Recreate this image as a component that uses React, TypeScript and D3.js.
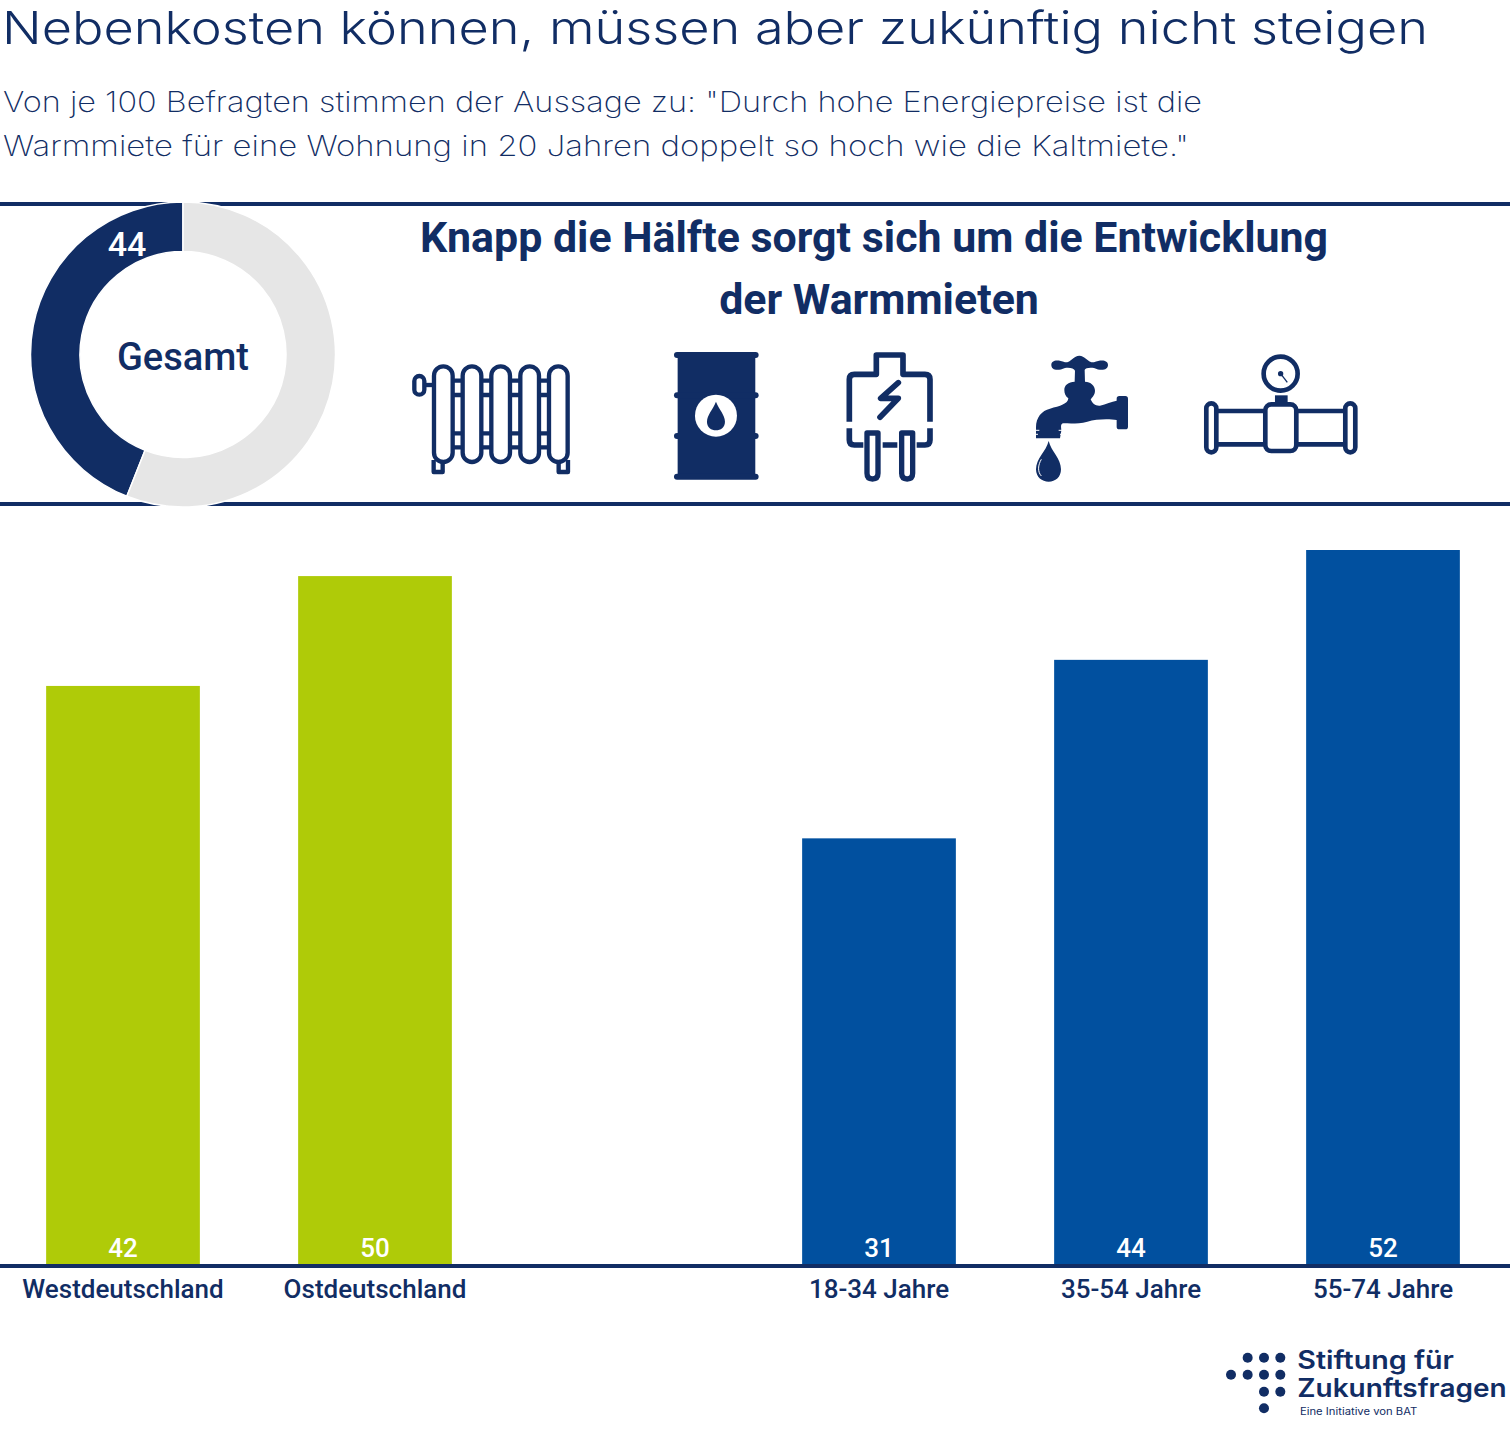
import React from "react";
import * as d3 from "d3";

const title = "Nebenkosten können, müssen aber zukünftig nicht steigen";
const subtitleLines = [
  'Von je 100 Befragten stimmen der Aussage zu: "Durch hohe Energiepreise ist die',
  'Warmmiete für eine Wohnung in 20 Jahren doppelt so hoch wie die Kaltmiete."',
];
const headingLines = ["Knapp die Hälfte sorgt sich um die Entwicklung", "der Warmmieten"];
const donutValue = 44;
const donutLabel = "Gesamt";
const categories = ["Westdeutschland", "Ostdeutschland", "", "18-34 Jahre", "35-54 Jahre", "55-74 Jahre"];
const values = [42.1, 50.1, null, 31, 44, 52];
const groups = ["region", "region", "none", "age", "age", "age"];

const NAVY = "#112d64";
const BLUE = "#01509f";
const GREEN = "#afcb08";
const GREY = "#e6e6e6";
const FONT = "Roboto, sans-serif";
const LIGHT = "Inter, sans-serif";

const x = d3.scaleBand<number>().domain(d3.range(6)).range([-3, 1509]).paddingInner(0.39).paddingOuter(0.195);
const y = d3.scaleLinear().domain([0, 52]).range([1264, 550]);
const color = d3.scaleOrdinal<string, string>().domain(["region", "age", "none"]).range([GREEN, BLUE, "none"]);

function Radiator() {
  const cols = [130, 216, 302, 389, 475];
  return (
    <g transform="translate(400,340) scale(0.3333)" fill="none" stroke={NAVY} strokeWidth={13}>
      <rect x={43} y={108} width={30} height={56} rx={15} />
      <path d="M73 135H100" />
      {cols.map((c) => (
        <rect key={c} x={c - 28} y={79} width={56} height={287} rx={28} />
      ))}
      {cols.slice(0, 4).map((c) => (
        <path key={c} d={`M${c + 28} 122H${c + 58}M${c + 28} 165H${c + 58}M${c + 28} 280H${c + 58}M${c + 28} 322H${c + 58}`} />
      ))}
      <path d="M101 360V396H128V368M504 360V396H476V368" strokeLinejoin="round" />
    </g>
  );
}

function Barrel() {
  const ys = [45, 166, 288, 410];
  return (
    <g transform="translate(400,340) scale(0.3333)" fill={NAVY}>
      <rect x={833} y={40} width={233} height={375} />
      {ys.map((v) => (
        <rect key={v} x={822} y={v - 9} width={254} height={18} rx={9} />
      ))}
      <circle cx={948} cy={227} r={63} fill="#fff" />
      <path d="M948 185C938 210 921 225 921 245C921 262 934 271 948 271C962 271 975 262 975 245C975 225 958 210 948 185Z" />
    </g>
  );
}

function Heater() {
  return (
    <g transform="translate(830,340) scale(0.3333)" fill="none" stroke={NAVY} strokeWidth={17} strokeLinecap="round" strokeLinejoin="round">
      <path d="M58 245V118Q58 103 73 103H139V45H219V103H285Q300 103 300 118V245" strokeLinecap="butt" />
      <path d="M58 265V300Q58 315 73 315H100M158 315H202M260 315H285Q300 315 300 300V265" strokeLinecap="butt" />
      <path d="M205 128L152 175H205L150 232" />
      <path d="M111 279H144V400Q144 417 127.500 417Q111 417 111 400Z" strokeWidth={16} />
      <path d="M215 279H248V400Q248 417 231.500 417Q215 417 215 400Z" strokeWidth={16} />
    </g>
  );
}

function Tap() {
  return (
    <g transform="translate(1000,340) scale(0.3333)" fill={NAVY}>
      <path d="M154 75C154 60 172 57 195 67C212 68 222 47 238 47C254 47 264 68 282 67C304 57 324 60 324 75C324 90 304 94 282 84C268 82 256 84 254 90L255 125C272 125 285 138 285 152C285 165 276 172 272 178C278 192 286 198 300 197C318 192 335 186 350 182V176Q350 168 358 168H376Q384 168 384 176V260Q384 268 376 268H358Q350 268 350 260V240C330 236 290 236 262 245C235 252 210 250 190 250C180 252 184 262 184 272L180 295H108V262C108 232 125 212 150 206C180 198 204 192 205 175C197 170 193 160 193 150C193 135 205 126 224 125L225 92C222 85 210 82 195 84C172 94 154 90 154 75Z" />
      <path d="M104 271H118M176 271H190M104 283H114M180 283H190" stroke="#fff" strokeWidth={3} />
      <path d="M146 303C138 335 108 355 108 388C108 412 126 425 146 425C166 425 183 412 183 388C183 355 154 335 146 303Z" />
      <path d="M124 358C114 375 112 395 124 408" fill="none" stroke="#fff" strokeWidth={3} />
    </g>
  );
}

function Valve() {
  return (
    <g transform="translate(1000,340) scale(0.3333)" fill="none" stroke={NAVY} strokeWidth={14}>
      <circle cx={842} cy={101} r={51} />
      <circle cx={842} cy={101} r={8} fill={NAVY} stroke="none" />
      <path d="M842 101L862 127" strokeWidth={4} />
      <rect x={825} y={166} width={38} height={24} fill={NAVY} stroke="none" />
      <rect x={796} y={193} width={93} height={140} rx={18} />
      <rect x={619} y={190} width={30} height={147} rx={15} />
      <rect x={1036} y={190} width={30} height={147} rx={15} />
      <path d="M649 213H796M649 313H796M889 213H1036M889 313H1036" />
    </g>
  );
}

function Logo() {
  const dots: [number, number][] = [
    [113, 68], [162, 68], [211, 68],
    [63, 119], [113, 119], [162, 119], [211, 119],
    [162, 170], [211, 170],
    [162, 220],
  ];
  return (
    <g transform="translate(1210,1335) scale(0.3333)" fill={NAVY}>
      {dots.map(([cx, cy]) => (
        <circle key={`${cx}-${cy}`} cx={cx} cy={cy} r={15} />
      ))}
      <g fontFamily="Inter, sans-serif" fontWeight={600}>
        <text x={262} y={103} fontSize={75} textLength={470} lengthAdjust="spacingAndGlyphs">Stiftung für</text>
        <text x={262} y={187} fontSize={75} textLength={628} lengthAdjust="spacingAndGlyphs">Zukunftsfragen</text>
      </g>
      <text x={270} y={241} fontSize={29} fontFamily="Inter, sans-serif" textLength={352} lengthAdjust="spacingAndGlyphs">Eine Initiative von BAT</text>
    </g>
  );
}

export default function App() {
  const pie = d3.pie<number>().sort(null).startAngle(0).endAngle(-2 * Math.PI)([donutValue, 100 - donutValue]);
  const arc = d3.arc<d3.PieArcDatum<number>>().innerRadius(103).outerRadius(152.5);
  return (
    <svg width={1510} height={1430} style={{ position: "absolute", left: 0, top: 0, background: "#fff" }}>
      <text x={2} y={44} fontFamily={LIGHT} fontWeight={300} fontSize={45} fill={NAVY} textLength={1426} lengthAdjust="spacingAndGlyphs">{title}</text>
      {subtitleLines.map((t, i) => (
        <text key={i} x={3} y={112 + i * 44} fontFamily={LIGHT} fontWeight={200} fontSize={28} fill={NAVY} textLength={i === 0 ? 1199 : 1186} lengthAdjust="spacingAndGlyphs">{t}</text>
      ))}
      <path d="M0 204H1510M0 504H1510" stroke={NAVY} strokeWidth={4} />
      <g transform="translate(183,354.500)">
        {pie.map((d, i) => (
          <path key={i} d={arc(d) ?? ""} fill={i === 0 ? NAVY : GREY} stroke="#fff" strokeWidth={1.5} />
        ))}
        <text x={-56} y={-99} textAnchor="middle" fontFamily={FONT} fontWeight={500} fontSize={34} fill="#fff">{donutValue}</text>
        <text x={0} y={15} textAnchor="middle" fontFamily={FONT} fontWeight={500} fontSize={38} fill={NAVY}>{donutLabel}</text>
      </g>
      {headingLines.map((t, i) => (
        <text key={i} x={874 + i * 5} y={252 + i * 62} textAnchor="middle" fontFamily={FONT} fontWeight={700} fontSize={42.900} fill={NAVY}>{t}</text>
      ))}
      <Radiator />
      <Barrel />
      <Heater />
      <Tap />
      <Valve />
      {values.map((v, i) =>
        v === null ? null : (
          <g key={i}>
            <rect x={x(i)} y={y(v)} width={x.bandwidth()} height={y(0) - y(v)} fill={color(groups[i])} />
            <text x={x(i)! + x.bandwidth() / 2} y={1257} textAnchor="middle" fontFamily={FONT} fontWeight={500} fontSize={26} fill="#fff">{Math.round(v)}</text>
            <text x={x(i)! + x.bandwidth() / 2} y={1298} textAnchor="middle" fontFamily={FONT} fontWeight={500} fontSize={26} fill={NAVY}>{categories[i]}</text>
          </g>
        ),
      )}
      <path d="M0 1266H1510" stroke={NAVY} strokeWidth={4} />
      <Logo />
    </svg>
  );
}
